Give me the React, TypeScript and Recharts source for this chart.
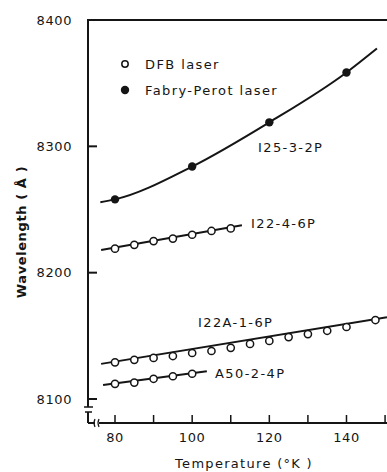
import { ComposedChart, Line, Scatter, XAxis, YAxis } from "recharts";

const FONT = "'DejaVu Sans', Verdana, sans-serif";
const INK = "#151515";

// axis ticks
const xTicks = [80, 90, 100, 110, 120, 130, 140, 150];
const xLabels = [80, 100, 120, 140];
const yTicks = [8100, 8200, 8300, 8400];
const X_MIN = 73;
const X_MAX = 150.5;
const Y_MIN = 8081;
const Y_MAX = 8400;

// Fabry-Perot laser, I25-3-2P (temperature K / wavelength Å)
const fpTemps = [80, 100, 120, 140];
const fpWaves = [8258, 8284, 8319, 8358.5];
const fpCurveTemps = [76.2, 80, 100, 120, 140, 147.9];
const fpCurveWaves = [8255.7, 8258, 8284, 8319, 8358.5, 8377.5];

// DFB laser, I22-4-6P
const i22Temps = [80, 85, 90, 95, 100, 105, 110];
const i22Waves = [8219, 8222, 8225, 8227, 8230, 8233, 8235];
const i22FitTemps = [76.4, 112.9];
const i22FitWaves = [8218, 8237.5];

// DFB laser, I22A-1-6P
const i22aTemps = [80, 85, 90, 95, 100, 105, 110, 115, 120, 125, 130, 135, 140, 147.5];
const i22aWaves = [8129, 8131, 8132.5, 8134, 8136.4, 8138, 8140.5, 8143.6, 8146, 8149, 8151.4, 8154, 8157, 8162.5];
const i22aFitTemps = [76.4, 150.5];
const i22aFitWaves = [8127.8, 8164.8];

// DFB laser, A50-2-4P
const a50Temps = [80, 85, 90, 95, 100];
const a50Waves = [8112, 8113, 8116, 8118, 8120];
const a50FitTemps = [76.9, 103.8];
const a50FitWaves = [8111, 8122];

// plot box in pixels (margin top 20, y axis width 88, x axis height 49)
const LEFT = 88;
const RIGHT = 387;
const TOP = 20;
const BOTTOM = 423;
const px = (t: number) => LEFT + ((t - X_MIN) / (X_MAX - X_MIN)) * (RIGHT - LEFT);
const py = (w: number) => TOP + ((Y_MAX - w) / (Y_MAX - Y_MIN)) * (BOTTOM - TOP);

const pts = (ts: number[], ws: number[]) => ts.map((t, i) => ({ t, w: ws[i] }));

const OpenDot = (props: any) => (
  <circle cx={props.cx} cy={props.cy} r={3.6} fill="#fff" stroke={INK} strokeWidth={1.5} />
);
const FilledDot = (props: any) => <circle cx={props.cx} cy={props.cy} r={4.2} fill={INK} />;

export default function App() {
  const txt = { fill: INK, fontFamily: FONT, fontSize: 13, letterSpacing: 1.4 };
  const tickStyle = { fill: INK, fontFamily: FONT, fontSize: 13, letterSpacing: 0.6 };
  return (
    <div style={{ position: "absolute", left: 0, top: 0, width: 387, height: 472 }}>
      {/* legend, curve labels and axis titles (under the chart) */}
      <svg width={387} height={472} style={{ position: "absolute", left: 0, top: 0 }}>
        <circle cx={125} cy={64} r={3.2} fill="#fff" stroke={INK} strokeWidth={1.5} />
        <text x={145} y={69} {...txt}>DFB laser</text>
        <circle cx={125} cy={90} r={4.2} fill={INK} />
        <text x={145} y={95} {...txt}>Fabry-Perot laser</text>

        <text x={258} y={152} {...txt}>I25-3-2P</text>
        <text x={251} y={228} {...txt}>I22-4-6P</text>
        <text x={198} y={327} {...txt}>I22A-1-6P</text>
        <text x={215} y={378} {...txt}>A50-2-4P</text>

        <text
          x={21}
          y={232}
          transform="rotate(-90 21 232)"
          textAnchor="middle"
          dominantBaseline="central"
          fill={INK}
          fontFamily={FONT}
          fontSize={13}
          fontWeight="bold"
          letterSpacing={0.6}
        >
          Wavelength ( Å )
        </text>
        <text x={244} y={468} textAnchor="middle" {...txt} letterSpacing={1.3}>
          Temperature (°K )
        </text>
      </svg>

      <div style={{ position: "absolute", left: 0, top: 0 }}>
        <ComposedChart width={387} height={472} margin={{ top: TOP, right: 0, bottom: 0, left: 0 }}>
          <XAxis
            dataKey="t"
            type="number"
            domain={[X_MIN, X_MAX]}
            ticks={xTicks}
            interval={0}
            allowDataOverflow
            height={49}
            tickSize={-8}
            tickMargin={18}
            tick={tickStyle}
            tickFormatter={(v: number) => (xLabels.includes(v) ? String(v) : "")}
            tickLine={false}
            axisLine={{ stroke: INK, strokeWidth: 2 }}
          />
          <YAxis
            type="number"
            domain={[Y_MIN, Y_MAX]}
            ticks={yTicks}
            interval={0}
            allowDataOverflow
            width={LEFT}
            tickSize={-9}
            tickMargin={25}
            tick={tickStyle}
            tickLine={false}
            axisLine={{ stroke: INK, strokeWidth: 2 }}
          />
          <Line data={pts(fpCurveTemps, fpCurveWaves)} dataKey="w" type="monotone" dot={false} stroke={INK} strokeWidth={2} isAnimationActive={false} />
          <Line data={pts(i22FitTemps, i22FitWaves)} dataKey="w" type="linear" dot={false} stroke={INK} strokeWidth={2} isAnimationActive={false} />
          <Line data={pts(i22aFitTemps, i22aFitWaves)} dataKey="w" type="linear" dot={false} stroke={INK} strokeWidth={2} isAnimationActive={false} />
          <Line data={pts(a50FitTemps, a50FitWaves)} dataKey="w" type="linear" dot={false} stroke={INK} strokeWidth={2} isAnimationActive={false} />
          <Scatter data={pts(fpTemps, fpWaves)} dataKey="w" shape={<FilledDot />} isAnimationActive={false} />
          <Scatter data={pts(i22Temps, i22Waves)} dataKey="w" shape={<OpenDot />} isAnimationActive={false} />
          <Scatter data={pts(i22aTemps, i22aWaves)} dataKey="w" shape={<OpenDot />} isAnimationActive={false} />
          <Scatter data={pts(a50Temps, a50Waves)} dataKey="w" shape={<OpenDot />} isAnimationActive={false} />
        </ComposedChart>
      </div>

      {/* frame top, inward tick marks and axis break marks */}
      <svg width={387} height={472} style={{ position: "absolute", left: 0, top: 0, pointerEvents: "none" }}>
        <line x1={LEFT - 1} x2={RIGHT} y1={TOP} y2={TOP} stroke={INK} strokeWidth={2} />
        {yTicks
          .filter((v) => v < Y_MAX)
          .map((v) => (
            <line key={`y${v}`} x1={LEFT} x2={LEFT + 9} y1={py(v)} y2={py(v)} stroke={INK} strokeWidth={2} />
          ))}
        {xTicks.map((v) => (
          <line key={`x${v}`} x1={px(v)} x2={px(v)} y1={BOTTOM} y2={BOTTOM - 8} stroke={INK} strokeWidth={1.5} />
        ))}
        <rect x={84} y={407} width={9} height={5} fill="#fff" />
        <line x1={84} x2={93} y1={407} y2={407} stroke={INK} strokeWidth={1.5} />
        <line x1={85} x2={92} y1={412} y2={412} stroke={INK} strokeWidth={1.5} />
        <rect x={95} y={420} width={4} height={6} fill="#fff" />
        <path d="M95 419 Q93 423 95 427 M99 419 Q97 423 99 427" fill="none" stroke={INK} strokeWidth={1.2} />
      </svg>
    </div>
  );
}
